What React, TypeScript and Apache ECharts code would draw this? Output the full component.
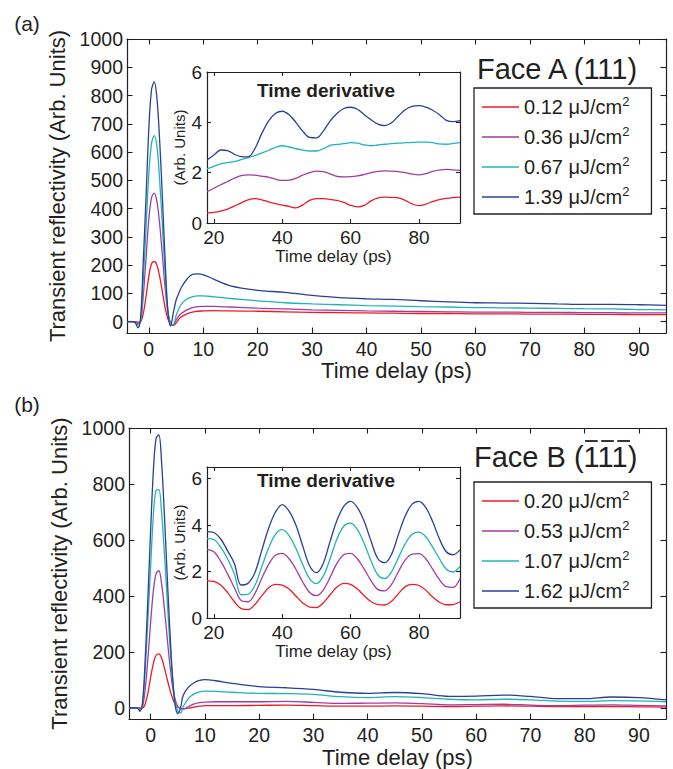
import React, { useEffect, useRef } from 'react';
import * as echarts from 'echarts';

// ---------- data ----------
const mainTime = [-4, -3, -2.5, -2, -1.5, -1, -0.5, 0, 0.5, 1, 1.5, 2, 2.5, 3, 3.5, 4, 4.5, 5, 5.5, 6, 7, 8, 9, 10, 12, 15, 20, 25, 30, 35, 40, 45, 50, 55, 60, 65, 70, 75, 80, 85, 90, 95];

const fluenceA = ['0.12', '0.36', '0.67', '1.39'];
const fluenceB = ['0.20', '0.53', '1.07', '1.62'];

const reflA_012 = [0, 0, 0, -2, 0, 30, 90, 160, 205, 213, 200, 160, 105, 50, 10, -8, -13, -5, 8, 18, 28, 34, 37, 38, 39, 38, 37, 35, 33, 32, 31, 30, 29, 29, 28, 28, 27, 27, 26, 26, 25, 25];
const reflA_036 = [0, 0, -2, -6, 0, 95, 225, 360, 438, 455, 425, 345, 235, 120, 35, -5, -13, 5, 20, 30, 42, 50, 53, 54, 54, 52, 48, 45, 42, 40, 38, 37, 36, 35, 34, 34, 33, 33, 32, 32, 31, 31];
const reflA_067 = [0, 0, -3, -10, 0, 150, 330, 520, 630, 658, 620, 500, 340, 170, 40, -8, -10, 20, 45, 62, 80, 88, 91, 91, 88, 82, 74, 67, 63, 60, 57, 55, 53, 52, 50, 49, 48, 47, 46, 45, 43, 42];
const reflA_139 = [0, 0, -3, -22, 15, 220, 440, 680, 820, 848, 790, 640, 440, 220, 40, -15, 30, 75, 100, 122, 150, 167, 169, 166, 150, 127, 111, 104, 93, 85, 81, 79, 74, 70, 67, 66, 65, 63, 61, 61, 60, 58];

const reflB_020 = [0, 0, 0, 0, 0, 15, 55, 110, 160, 188, 193, 178, 145, 105, 68, 36, 14, 3, -2, -3, -1, 3, 6, 8, 8, 8, 9, 10, 8, 6, 6, 7, 6, 5, 6, 7, 6, 5, 5, 5, 4, 3];
const reflB_053 = [0, 0, 0, -4, 5, 70, 180, 310, 420, 480, 490, 445, 360, 260, 160, 80, 30, 5, -3, -4, 5, 14, 19, 21, 22, 22, 22, 23, 20, 16, 17, 18, 15, 11, 12, 13, 10, 8, 10, 11, 9, 7];
const reflB_107 = [0, 0, 0, -8, 15, 140, 320, 510, 690, 778, 780, 700, 560, 400, 240, 110, 25, -12, -18, 5, 35, 50, 57, 60, 59, 56, 52, 51, 48, 40, 37, 40, 37, 31, 29, 31, 29, 24, 23, 26, 25, 22];
const reflB_162 = [0, 0, 0, -12, 20, 180, 400, 640, 850, 965, 975, 880, 700, 490, 290, 120, 10, -20, 0, 45, 75, 90, 98, 101, 97, 88, 76, 72, 66, 56, 52, 55, 51, 41, 42, 46, 41, 33, 33, 39, 37, 29];

const insetTime = [18, 20, 22, 24, 26, 28, 30, 32, 34, 36, 38, 40, 42, 44, 46, 48, 50, 52, 54, 56, 58, 60, 62, 64, 66, 68, 70, 72, 74, 76, 78, 80, 82, 84, 86, 88, 90, 92];

const derivA_012 = [0.4, 0.42, 0.47, 0.55, 0.67, 0.8, 0.92, 0.97, 0.92, 0.84, 0.77, 0.71, 0.66, 0.6, 0.72, 0.9, 0.97, 0.97, 0.94, 0.9, 0.82, 0.7, 0.64, 0.7, 0.88, 1.0, 1.03, 1.02, 1.0, 0.9, 0.76, 0.69, 0.75, 0.85, 0.93, 0.98, 1.01, 1.03];
const derivA_036 = [1.25, 1.38, 1.52, 1.65, 1.78, 1.88, 1.91, 1.9, 1.86, 1.82, 1.74, 1.69, 1.7, 1.78, 1.9, 2.0, 2.06, 2.04, 1.95, 1.85, 1.83, 1.84, 1.87, 1.93, 2.0, 2.05, 2.07, 2.06, 2.04, 2.0, 1.94, 1.91, 1.96, 2.05, 2.1, 2.13, 2.11, 2.09];
const derivA_067 = [2.15, 2.25, 2.35, 2.4, 2.44, 2.52, 2.6, 2.68, 2.78, 2.88, 3.0, 3.07, 3.02, 2.95, 2.9, 2.86, 2.86, 2.95, 3.08, 3.12, 3.15, 3.19, 3.17, 3.1, 3.07, 3.1, 3.13, 3.15, 3.17, 3.19, 3.2, 3.21, 3.21, 3.19, 3.14, 3.13, 3.16, 3.19];
const derivA_139 = [2.5, 2.7, 2.9, 2.88, 2.73, 2.64, 2.63, 2.95, 3.55, 4.05, 4.35, 4.44, 4.3, 4.0, 3.65, 3.4, 3.38, 3.65, 4.05, 4.35, 4.55, 4.6, 4.52, 4.3, 4.1, 3.93, 3.87, 3.98, 4.25, 4.5, 4.63, 4.66, 4.6, 4.48, 4.3, 4.08, 4.03, 4.07];

const derivB_020 = [1.6, 1.58, 1.42, 1.1, 0.7, 0.4, 0.36, 0.58, 0.95, 1.3, 1.45, 1.42, 1.25, 0.95, 0.65, 0.47, 0.45, 0.65, 1.0, 1.33, 1.49, 1.45, 1.25, 0.95, 0.7, 0.58, 0.56, 0.72, 1.05, 1.35, 1.45, 1.4, 1.2, 0.9, 0.68, 0.57, 0.58, 0.7];
const derivB_053 = [2.95, 2.85, 2.45, 1.9, 1.3, 0.75, 0.7, 1.05, 1.7, 2.3, 2.7, 2.78, 2.55, 2.1, 1.55, 1.1, 0.96, 1.2, 1.75, 2.35, 2.72, 2.78, 2.55, 2.1, 1.6, 1.22, 1.17, 1.45, 2.0, 2.5, 2.75, 2.77, 2.55, 2.1, 1.65, 1.35, 1.32, 1.7];
const derivB_107 = [3.42, 3.38, 3.05, 2.55, 1.9, 1.0, 1.02, 1.4, 2.2, 3.0, 3.6, 3.8, 3.55, 3.0, 2.3, 1.7, 1.48, 1.8, 2.55, 3.4, 3.95, 4.08, 3.8, 3.2, 2.45, 1.85, 1.7, 2.0, 2.6, 3.2, 3.6, 3.7, 3.5, 3.05, 2.55, 2.1, 1.98, 2.22];
const derivB_162 = [3.72, 3.68, 3.4, 2.9, 2.35, 1.42, 1.5, 1.95, 2.9, 3.85, 4.55, 4.88, 4.6, 4.0, 3.1, 2.25, 1.95, 2.35, 3.3, 4.2, 4.8, 5.02, 4.75, 4.15, 3.3, 2.55, 2.38, 2.75, 3.6, 4.4, 4.9, 5.02, 4.75, 4.15, 3.4, 2.85, 2.72, 2.93];

const mainXTicks = [0, 10, 20, 30, 40, 50, 60, 70, 80, 90];
const mainYTicksA = [0, 100, 200, 300, 400, 500, 600, 700, 800, 900, 1000];
const mainYTicksB = [0, 200, 400, 600, 800, 1000];
const insetXTicks = [20, 40, 60, 80];
const insetYTicks = [0, 2, 4, 6];

// ---------- styling ----------
const FONT = "'Liberation Sans', Arial, Helvetica, sans-serif";
const INK = '#231f20';
const COLORS = ['#ec1c24', '#a23ca2', '#20b4b4', '#2b3f98'];

function axesFor(dim: 'x' | 'y', gridIndex: number, min: number, max: number, ticks: number[], c: any) {
  const line = { show: true, onZero: false, lineStyle: { color: INK, width: 1.2 } };
  const tick = { show: true, inside: true, length: c.tickLen, customValues: ticks, lineStyle: { color: INK, width: 1.1 } };
  const primary = {
    type: 'value', gridIndex, min, max,
    position: dim === 'x' ? 'bottom' : 'left',
    axisLine: line, axisTick: tick,
    axisLabel: {
      show: true, customValues: ticks, fontSize: c.labelSize, color: INK, fontFamily: FONT, margin: c.margin,
      formatter: (v: number) => String(v),
    },
    splitLine: { show: false },
    name: c.name, nameLocation: 'middle', nameGap: c.nameGap,
    nameTextStyle: { fontSize: c.nameSize, color: INK, fontFamily: FONT },
  };
  const mirror = {
    type: 'value', gridIndex, min, max,
    position: dim === 'x' ? 'top' : 'right',
    axisLine: line, axisTick: tick,
    axisLabel: { show: false }, splitLine: { show: false },
  };
  return [primary, mirror];
}

function lineSeries(name: string, xs: number[], ys: number[], axisIdx: number, color: string) {
  return {
    type: 'line', name, xAxisIndex: axisIdx, yAxisIndex: axisIdx,
    data: xs.map((x, i) => [x, ys[i]]),
    symbol: 'none', smooth: 0.35, silent: true,
    color, lineStyle: { color, width: 1.3 }, itemStyle: { color },
  };
}

function legendFor(names: string[], left: number, top: number) {
  return {
    data: names, orient: 'vertical', left, top,
    padding: [7, 22, 7, 8], itemGap: 8, itemWidth: 37, itemHeight: 14,
    icon: 'path://M0,0 L37,0 L37,1.4 L0,1.4 Z',
    borderColor: INK, borderWidth: 1.3, backgroundColor: '#fff', selectedMode: false,
    formatter: (n: string) => `{n|${n} \u03bcJ/cm}{s|2}`,
    textStyle: {
      color: INK, fontFamily: FONT, fontSize: 20,
      rich: {
        n: { fontSize: 20, lineHeight: 24, fontFamily: FONT, color: INK },
        s: { fontSize: 13, lineHeight: 13, verticalAlign: 'top', fontFamily: FONT, color: INK },
      },
    },
  };
}

export default function App() {
  const ref = useRef<HTMLDivElement>(null);
  useEffect(() => {
    if (!ref.current) return;
    const chart = echarts.init(ref.current, undefined, { renderer: 'svg' });

    const mainAx = { tickLen: 5.5, labelSize: 19.5, margin: 6, nameSize: 22 };
    const insetAx = { tickLen: 4, labelSize: 19, margin: 5 };

    const xAxis = [
      ...axesFor('x', 0, -4, 95, mainXTicks, { ...mainAx, name: 'Time delay (ps)', nameGap: 25 }),
      ...axesFor('x', 1, -4, 95, mainXTicks, { ...mainAx, name: 'Time delay (ps)', nameGap: 24 }),
      ...axesFor('x', 2, 18, 92, insetXTicks, { ...insetAx, name: 'Time delay (ps)', nameGap: 25, nameSize: 17 }),
      ...axesFor('x', 3, 18, 92, insetXTicks, { ...insetAx, name: 'Time delay (ps)', nameGap: 25, nameSize: 17 }),
    ];
    const yAxis = [
      ...axesFor('y', 0, -40, 1000, mainYTicksA, { ...mainAx, margin: 4, name: 'Transient reflectivity (Arb. Units)', nameGap: 53 }),
      ...axesFor('y', 1, -40, 1000, mainYTicksB, { ...mainAx, margin: 4, name: 'Transient reflectivity (Arb. Units)', nameGap: 55 }),
      ...axesFor('y', 2, 0, 6, insetYTicks, { ...insetAx, name: '(Arb. Units)', nameGap: 20, nameSize: 15 }),
      ...axesFor('y', 3, 0, 6.5, insetYTicks, { ...insetAx, name: '(Arb. Units)', nameGap: 20, nameSize: 15 }),
    ];

    const reflA = [reflA_012, reflA_036, reflA_067, reflA_139];
    const reflB = [reflB_020, reflB_053, reflB_107, reflB_162];
    const derivA = [derivA_012, derivA_036, derivA_067, derivA_139];
    const derivB = [derivB_020, derivB_053, derivB_107, derivB_162];

    const series: any[] = [];
    fluenceA.forEach((f, i) => series.push(lineSeries(f, mainTime, reflA[i], 0, COLORS[i])));
    fluenceB.forEach((f, i) => series.push(lineSeries(f, mainTime, reflB[i], 2, COLORS[i])));
    fluenceA.forEach((f, i) => series.push(lineSeries(f, insetTime, derivA[i], 4, COLORS[i])));
    fluenceB.forEach((f, i) => series.push(lineSeries(f, insetTime, derivB[i], 6, COLORS[i])));

    // overbar positions follow the Arial metrics of the "Face B (" text
    const fbSize = 29;
    const fbLeft = 474;
    const oneStart = fbLeft + 3.779 * fbSize;
    const oneW = 0.556 * fbSize;
    const bars = [0, 1, 2].map((k) => ({
      type: 'line',
      shape: { x1: oneStart + k * oneW + 1.5, y1: 441, x2: oneStart + k * oneW + oneW - 2, y2: 441 },
      style: { stroke: INK, lineWidth: 1.8 },
    }));

    const txt = (x: number, y: number, text: string, size: number, align: string, weight = 'normal') => ({
      type: 'text', x, y,
      style: { text, fontSize: size, fontFamily: FONT, fontWeight: weight, fill: INK, align, verticalAlign: 'middle' },
    });

    chart.setOption({
      animation: false,
      backgroundColor: '#fff',
      grid: [
        { left: 127, top: 39, width: 539, height: 294 },
        { left: 129, top: 428, width: 537, height: 293 },
        { left: 207, top: 72, width: 253, height: 151, show: true, backgroundColor: '#fff', borderWidth: 0 },
        { left: 207, top: 467, width: 253, height: 151, show: true, backgroundColor: '#fff', borderWidth: 0 },
      ],
      xAxis, yAxis, series,
      legend: [legendFor(fluenceA, 474, 88), legendFor(fluenceB, 474, 482)],
      graphic: [
        txt(27, 23, '(a)', 21, 'center'),
        txt(27, 404, '(b)', 21, 'center'),
        txt(477, 69, 'Face A (111)', 29, 'left'),
        txt(fbLeft, 457, 'Face B (111)', fbSize, 'left'),
        ...bars,
        txt(326, 90, 'Time derivative', 19, 'center', 'bold'),
        txt(326, 480, 'Time derivative', 19, 'center', 'bold'),
      ],
    });
    return () => chart.dispose();
  }, []);
  return <div ref={ref} style={{ position: 'absolute', left: 0, top: 0, width: 673, height: 769, background: '#fff' }} />;
}
